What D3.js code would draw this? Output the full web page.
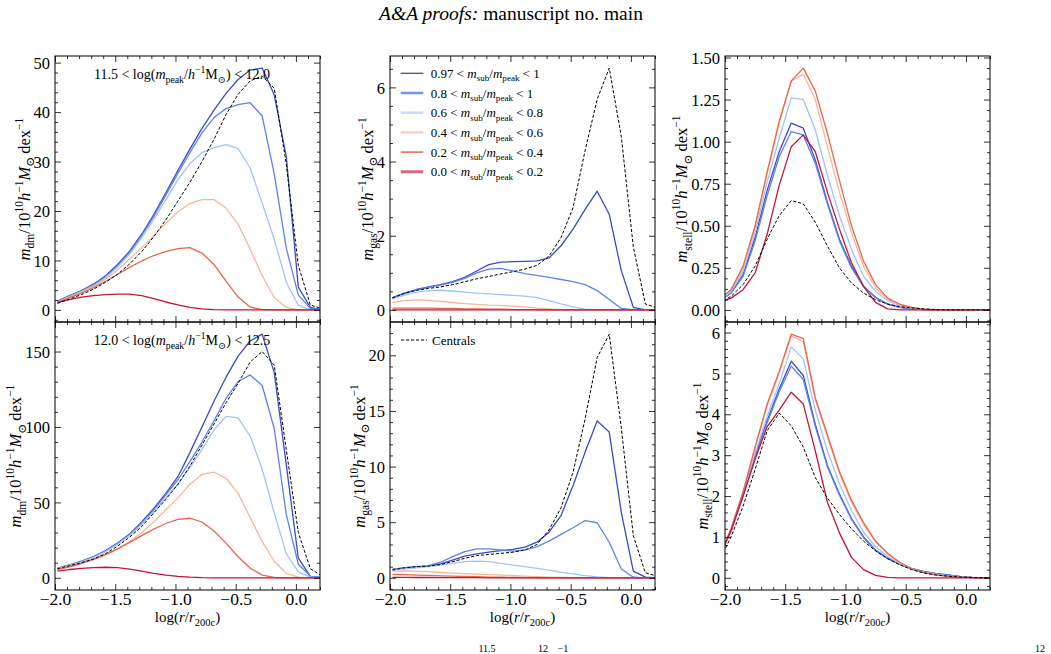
<!DOCTYPE html>
<html>
<head>
<meta charset="utf-8">
<script src="https://cdn.jsdelivr.net/npm/d3@7/dist/d3.min.js"></script>
<style>
  html, body { margin: 0; padding: 0; background: #fff; }
  svg { display: block; }
</style>
</head>
<body>
<svg id="chart"></svg>
<script>
// radial bins (log r / r200c)
const logR = [-1.98,-1.88,-1.78,-1.68,-1.58,-1.48,-1.38,-1.28,-1.18,-1.08,-0.98,-0.88,-0.78,-0.68,-0.58,-0.48,-0.38,-0.28,-0.18,-0.08,0.02,0.12,0.22]
const logRStell = [-2.05,-1.95,-1.85,-1.75,-1.65,-1.55,-1.45,-1.35,-1.25,-1.15,-1.05,-0.95,-0.85,-0.75,-0.65,-0.55,-0.45,-0.35,-0.25,-0.15,-0.05,0.05,0.15,0.25]

const xTicks = [-2, -1.5, -1, -0.5, 0]
const binLabels = [['0.97', '1'], ['0.8', '1'], ['0.6', '0.8'], ['0.4', '0.6'], ['0.2', '0.4'], ['0.0', '0.2']]
const massLabels = [['11.5', '12.0'], ['12.0', '12.5']]

// dark matter, 11.5 < log mpeak < 12.0
const dmLo097 = [1.8,2.9,3.9,5.2,6.9,9.2,11.9,15.3,19.3,23.7,28.2,32.5,36.7,40.4,43.8,46.6,48.5,48.9,43.5,31.0,4.6,0.5,0]
const dmLo080 = [1.7,2.8,3.8,5.0,6.7,8.9,11.6,15.0,18.9,23.2,27.6,31.8,35.8,38.9,40.7,41.5,41.9,39.2,27.5,12.5,3.0,0.3,0]
const dmLo060 = [1.6,2.7,3.7,4.9,6.5,8.7,11.3,14.6,18.3,22.3,26.3,29.6,31.8,32.8,33.4,32.6,28.7,21.6,14.3,5.6,0.9,0,0]
const dmLo040 = [1.5,2.6,3.5,4.7,6.2,8.1,10.3,12.6,15.0,17.5,19.8,21.5,22.3,22.3,20.6,17.3,12.3,6.9,2.5,0.5,0,0,0]
const dmLo020 = [1.5,2.5,3.4,4.5,5.8,7.2,8.6,9.9,11.0,11.8,12.4,12.6,11.5,9.2,5.8,2.6,0.6,0.05,0,0,0,0,0]
const dmLo000 = [1.5,2.1,2.6,2.9,3.1,3.2,3.2,2.9,2.3,1.6,1.0,0.5,0.2,0.05,0,0,0,0,0,0,0,0,0]
const dmLoCen = [1.3,2.2,3.1,4.2,5.6,7.2,9.3,11.8,14.8,18.2,22.0,25.8,30.0,34.5,39.5,43.6,46.3,47.3,44.8,29.5,9.0,1.0,0.2]

// dark matter, 12.0 < log mpeak < 12.5
const dmHi097 = [6.5,8.5,11,14,18,23,29,37,46,56,67,83,100,117,133,147,157,161.5,136,75,13,1,0]
const dmHi080 = [6.3,8.3,10.8,13.8,17.8,22.7,28.5,36,45,55,65,77,90,104,119,130,134.5,127.5,99,42,9,1,0]
const dmHi060 = [6.2,8.2,10.6,13.5,17.4,22.2,28,35.5,44,53,62,73,85,98,107,106,94,72,43,16,4,0.5,0]
const dmHi040 = [6.0,7.5,9.5,12,15,19,24,30,37,45,53,62,68.5,70,66,56,40,24,11,3,0.5,0,0]
const dmHi020 = [5.5,7.3,9.5,12.2,15.5,19.2,23.5,28,32.3,36,38.8,39.5,37,31,23,14,6.5,1.8,0.3,0,0,0,0]
const dmHi000 = [4.5,5.5,6.3,6.8,7.0,6.7,5.8,4.5,3.0,1.8,0.9,0.4,0.1,0,0,0,0,0,0,0,0,0,0]
const dmHiCen = [6,8,10,12.5,16,21,27,34,43,52,62,74,88,102,116,129,143,150,141,85,30,6,1]

// gas, 11.5 < log mpeak < 12.0
const gasLo097 = [0.33,0.45,0.55,0.62,0.68,0.76,0.88,1.05,1.22,1.29,1.3,1.31,1.32,1.4,1.73,2.18,2.71,3.2,2.58,1.06,0.07,0,0]
const gasLo080 = [0.32,0.44,0.54,0.61,0.67,0.74,0.85,1.0,1.1,1.12,1.05,0.98,0.93,0.88,0.82,0.76,0.68,0.52,0.28,0.04,0,0,0]
const gasLo060 = [0.3,0.4,0.48,0.52,0.53,0.51,0.48,0.45,0.43,0.41,0.39,0.37,0.33,0.25,0.16,0.08,0.02,0,0,0,0,0,0]
const gasLo040 = [0.2,0.25,0.27,0.26,0.23,0.2,0.17,0.15,0.13,0.12,0.1,0.08,0.05,0.03,0.01,0,0,0,0,0,0,0,0]
const gasLo020 = [0.05,0.05,0.05,0.05,0.04,0.04,0.03,0.03,0.02,0.02,0.01,0.01,0,0,0,0,0,0,0,0,0,0,0]
const gasLo000 = [0,0,0,0,0,0,0,0,0,0,0,0,0,0,0,0,0,0,0,0,0,0,0]
const gasLoCen = [0.32,0.45,0.53,0.58,0.62,0.68,0.76,0.84,0.9,0.97,1.03,1.1,1.2,1.45,1.95,2.76,4.3,5.68,6.52,4.68,1.7,0.16,0.05]

// gas, 12.0 < log mpeak < 12.5
const gasHi097 = [0.75,0.9,0.98,1.05,1.25,1.6,1.95,2.15,2.3,2.45,2.55,2.75,3.2,4.1,5.6,8.3,11.3,14.1,13.1,5.9,0.6,0.06,0]
const gasHi080 = [0.75,0.92,1.0,1.1,1.4,1.9,2.35,2.6,2.6,2.5,2.4,2.5,2.8,3.3,3.9,4.5,5.15,4.95,3.2,0.8,0.05,0,0]
const gasHi060 = [0.7,0.8,0.9,1.0,1.15,1.3,1.45,1.5,1.45,1.3,1.15,1.0,0.85,0.7,0.5,0.35,0.2,0.08,0.02,0,0,0,0]
const gasHi040 = [0.6,0.62,0.6,0.55,0.48,0.42,0.37,0.33,0.29,0.25,0.2,0.15,0.1,0.06,0.03,0.01,0,0,0,0,0,0,0]
const gasHi020 = [0.3,0.28,0.25,0.22,0.18,0.15,0.12,0.1,0.07,0.05,0.03,0.01,0,0,0,0,0,0,0,0,0,0,0]
const gasHi000 = [0.04,0.04,0.03,0.03,0.02,0.02,0.01,0.01,0,0,0,0,0,0,0,0,0,0,0,0,0,0,0]
const gasHiCen = [0.7,0.9,1.0,1.05,1.2,1.45,1.75,2.0,2.1,2.2,2.3,2.5,3.0,4.3,6.3,9.5,14.3,19.8,21.9,13.5,3.8,0.45,0.15]

// stars, 11.5 < log mpeak < 12.0
const stLo097 = [0.05,0.1,0.21,0.43,0.71,0.94,1.11,1.08,0.89,0.64,0.42,0.26,0.14,0.075,0.035,0.015,0.006,0.002,0,0,0,0,0,0]
const stLo080 = [0.05,0.1,0.2,0.41,0.68,0.91,1.06,1.04,0.87,0.63,0.41,0.25,0.14,0.072,0.034,0.015,0.006,0.002,0,0,0,0,0,0]
const stLo060 = [0.05,0.11,0.23,0.46,0.76,1.02,1.26,1.25,1.07,0.8,0.56,0.36,0.2,0.11,0.055,0.025,0.01,0.004,0,0,0,0,0,0]
const stLo040 = [0.06,0.12,0.25,0.49,0.81,1.11,1.36,1.40,1.25,0.97,0.70,0.46,0.26,0.13,0.065,0.03,0.012,0.004,0,0,0,0,0,0]
const stLo020 = [0.06,0.12,0.26,0.5,0.82,1.12,1.36,1.437,1.30,1.05,0.77,0.5,0.29,0.15,0.07,0.035,0.015,0.005,0,0,0,0,0,0]
const stLo000 = [0.04,0.07,0.12,0.22,0.45,0.74,0.97,1.04,0.94,0.70,0.48,0.28,0.14,0.045,0.006,0,0,0,0,0,0,0,0,0]
const stLoCen = [0.04,0.08,0.15,0.26,0.42,0.56,0.65,0.63,0.52,0.38,0.25,0.16,0.1,0.06,0.035,0.02,0.012,0.006,0.002,0,0,0,0,0]

// stars, 12.0 < log mpeak < 12.5
const stHi097 = [0.55,1.15,2.05,3.0,3.85,4.62,5.3,4.95,3.75,2.75,2.05,1.45,1.0,0.68,0.48,0.34,0.23,0.16,0.11,0.07,0.035,0.01,0,0]
const stHi080 = [0.55,1.13,2.0,2.95,3.8,4.55,5.18,4.85,3.7,2.72,2.02,1.43,0.98,0.67,0.47,0.33,0.22,0.15,0.1,0.065,0.03,0.01,0,0]
const stHi060 = [0.55,1.15,2.05,3.05,3.95,4.75,5.65,5.35,4.1,3.1,2.3,1.65,1.12,0.76,0.52,0.35,0.22,0.14,0.09,0.05,0.025,0.01,0,0]
const stHi040 = [0.5,1.2,2.1,3.2,4.2,5.0,5.92,5.78,4.35,3.45,2.55,1.85,1.3,0.88,0.58,0.37,0.21,0.12,0.065,0.035,0.015,0.005,0,0]
const stHi020 = [0.5,1.2,2.1,3.2,4.25,5.05,5.96,5.85,4.4,3.5,2.6,1.9,1.35,0.9,0.6,0.38,0.22,0.13,0.07,0.04,0.015,0.005,0,0]
const stHi000 = [0.5,1.15,2.0,2.9,3.7,4.1,4.54,4.25,3.1,1.85,1.1,0.5,0.2,0.06,0.01,0,0,0,0,0,0,0,0,0]
const stHiCen = [0.4,1.0,1.75,2.65,3.6,4.03,3.72,3.2,2.45,1.95,1.55,1.2,0.9,0.66,0.47,0.32,0.2,0.12,0.07,0.04,0.02,0.01,0,0]

const yTicksDmLo = [0, 10, 20, 30, 40, 50]
const yTicksDmHi = [0, 50, 100, 150]
const yTicksGasLo = [0, 2, 4, 6]
const yTicksGasHi = [0, 5, 10, 15, 20]
const yTicksStLo = [0, 0.25, 0.5, 0.75, 1, 1.25, 1.5]
const yTicksStHi = [0, 1, 2, 3, 4, 5, 6]

const colors = ['#3b4cc0', '#5f83ea', '#a3c2fb', '#f5b79b', '#e4694f', '#c0163a']
const FONT = "'Liberation Serif', 'DejaVu Serif', serif"

const W = 1051, H = 654
const svg = d3.select('#chart').attr('width', W).attr('height', H)
  .style('font-family', FONT)
svg.append('rect').attr('width', W).attr('height', H).attr('fill', '#fff')

// writes text with italic / sub / sup parts
function rich(text, parts, fs) {
  let shift = 0
  parts.forEach(([str, style = '']) => {
    const tok = style.split(' ')
    const sub = tok.includes('sub'), sup = tok.includes('sup')
    const target = sub ? 0.28 * fs : sup ? -0.42 * fs : 0
    text.append('tspan')
      .text(str)
      .attr('dy', target - shift)
      .attr('font-size', sub || sup ? fs * 0.7 : fs)
      .attr('font-style', tok.includes('i') ? 'italic' : null)
    shift = target
  })
  return text
}

// header
rich(svg.append('text').attr('x', 511).attr('y', 20).attr('text-anchor', 'middle'),
  [['A&A proofs:', 'i'], [' manuscript no. main']], 19.5)

const cols = [55, 390, 725]
const rows = [{top: 56, h: 266}, {top: 322, h: 268}]
const pw = 265

const panels = [
  {col: 0, row: 0, x: logR, ys: [dmLo097, dmLo080, dmLo060, dmLo040, dmLo020, dmLo000], cen: dmLoCen, ticks: yTicksDmLo, minor: 2, fmt: 'd', comp: 'dm'},
  {col: 0, row: 1, x: logR, ys: [dmHi097, dmHi080, dmHi060, dmHi040, dmHi020, dmHi000], cen: dmHiCen, ticks: yTicksDmHi, minor: 10, fmt: 'd', comp: 'dm'},
  {col: 1, row: 0, x: logR, ys: [gasLo097, gasLo080, gasLo060, gasLo040, gasLo020, gasLo000], cen: gasLoCen, ticks: yTicksGasLo, minor: 0.5, fmt: 'd', comp: 'gas'},
  {col: 1, row: 1, x: logR, ys: [gasHi097, gasHi080, gasHi060, gasHi040, gasHi020, gasHi000], cen: gasHiCen, ticks: yTicksGasHi, minor: 1, fmt: 'd', comp: 'gas'},
  {col: 2, row: 0, x: logRStell, ys: [stLo097, stLo080, stLo060, stLo040, stLo020, stLo000], cen: stLoCen, ticks: yTicksStLo, minor: 0.0625, fmt: '.2f', comp: 'stell'},
  {col: 2, row: 1, x: logRStell, ys: [stHi097, stHi080, stHi060, stHi040, stHi020, stHi000], cen: stHiCen, ticks: yTicksStHi, minor: 0.2, fmt: 'd', comp: 'stell'}
]

const xMinor = d3.range(0, 23).map(i => -2 + i * 0.1)
  .filter(v => Math.abs(v * 2 - Math.round(v * 2)) > 1e-6)

panels.forEach((p, pi) => {
  const left = cols[p.col], top = rows[p.row].top, h = rows[p.row].h
  const g = svg.append('g').attr('transform', `translate(${left},${top})`)

  const vmax = d3.max([...p.ys, p.cen].flat())
  const pad = vmax * 0.05
  const x = d3.scaleLinear().domain([-2, 0.2]).range([0, pw])
  const y = d3.scaleLinear().domain([-pad, vmax + pad]).range([h, 0])

  g.append('clipPath').attr('id', 'clip' + pi)
    .append('rect').attr('width', pw).attr('height', h)

  const lines = g.append('g').attr('clip-path', `url(#clip${pi})`)
  const line = d3.line().x((d, i) => x(p.x[i])).y(d => y(d))

  p.ys.forEach((vals, k) => {
    lines.append('path')
      .datum(vals)
      .attr('d', line)
      .attr('fill', 'none')
      .attr('stroke', colors[k])
      .attr('stroke-width', 1.3)
      .attr('stroke-linejoin', 'round')
  })
  lines.append('path')
    .datum(p.cen)
    .attr('d', line)
    .attr('fill', 'none')
    .attr('stroke', '#000')
    .attr('stroke-width', 1)
    .attr('stroke-dasharray', '3.2,1.8')

  // ticks (inward on all sides)
  const [d0, d1] = y.domain()
  const yMinor = d3.range(Math.ceil(d0 / p.minor), Math.floor(d1 / p.minor) + 1)
    .map(i => i * p.minor)
    .filter(v => !p.ticks.some(t => Math.abs(t - v) < 1e-9))
  const showX = p.row === 1

  const axes = [
    [d3.axisBottom(x).tickValues(xTicks).tickSize(-6).tickPadding(3).tickFormat(showX ? d3.format('.1f') : () => ''), `translate(0,${h})`, 'xb'],
    [d3.axisBottom(x).tickValues(xMinor).tickSize(-3).tickFormat(() => ''), `translate(0,${h})`],
    [d3.axisTop(x).tickValues(xTicks).tickSize(-6).tickFormat(() => ''), 'translate(0,0)'],
    [d3.axisTop(x).tickValues(xMinor).tickSize(-3).tickFormat(() => ''), 'translate(0,0)'],
    [d3.axisLeft(y).tickValues(p.ticks).tickSize(-6).tickPadding(5).tickFormat(d3.format(p.fmt)), 'translate(0,0)', 'yl'],
    [d3.axisLeft(y).tickValues(yMinor).tickSize(-3).tickFormat(() => ''), 'translate(0,0)'],
    [d3.axisRight(y).tickValues(p.ticks).tickSize(-6).tickFormat(() => ''), `translate(${pw},0)`],
    [d3.axisRight(y).tickValues(yMinor).tickSize(-3).tickFormat(() => ''), `translate(${pw},0)`]
  ]
  let yAxisG = null
  axes.forEach(([ax, tr, id]) => {
    const a = g.append('g').attr('transform', tr).call(ax)
    a.attr('font-family', FONT)
    a.select('.domain').remove()
    a.selectAll('line').attr('stroke', '#000').attr('stroke-width', 0.8)
    a.selectAll('text').attr('font-family', FONT).attr('fill', '#000')
    if (id === 'xb') a.selectAll('text').attr('font-size', 17.5)
    if (id === 'yl') {
      a.selectAll('text').attr('font-size', 16.5).attr('dy', '0.34em')
      yAxisG = a
    }
  })

  g.append('rect').attr('width', pw).attr('height', h)
    .attr('fill', 'none').attr('stroke', '#000').attr('stroke-width', 1)

  // y label placed next to widest tick label
  let tw = 0
  yAxisG.selectAll('text').each(function() { tw = Math.max(tw, this.getComputedTextLength()) })
  const lx = -5 - tw - 4
  const yl = g.append('text')
    .attr('transform', `translate(${lx},${h / 2}) rotate(-90)`)
    .attr('text-anchor', 'middle')
  rich(yl, [['m', 'i'], [p.comp, 'sub'], ['/10'], ['10', 'sup'], ['h', 'i'], ['−1', 'sup'], ['M', 'i'], ['⊙', 'sub'], ['\u2009dex'], ['−1', 'sup']], 16.5)

  if (showX) {
    rich(g.append('text').attr('x', pw / 2).attr('y', h + 32).attr('text-anchor', 'middle'),
      [['log('], ['r', 'i'], ['/'], ['r', 'i'], ['200c', 'sub'], [')']], 15)
  }

  if (p.col === 0) {
    const [lo, hi] = massLabels[p.row]
    rich(g.append('text').attr('x', 127).attr('y', 23).attr('text-anchor', 'middle'),
      [[lo + ' < log('], ['m', 'i'], ['peak', 'sub'], ['/'], ['h', 'i'], ['−1', 'sup'], ['M'], ['⊙', 'sub'], [') < ' + hi]], 14)
  }

  if (p.col === 1 && p.row === 0) {
    binLabels.forEach(([lo, hi], k) => {
      const ly = 17.3 + k * 19.7
      const widths = [1.3, 2.6, 2.6, 2, 1.5, 3]
      const op = [1, 0.85, 0.6, 0.75, 1, 0.65]
      g.append('line').attr('x1', 10.7).attr('x2', 33.3).attr('y1', ly).attr('y2', ly)
        .attr('stroke', colors[k]).attr('stroke-width', widths[k]).attr('stroke-opacity', op[k])
      rich(g.append('text').attr('x', 40.7).attr('y', ly + 4.5),
        [[lo + ' < '], ['m', 'i'], ['sub', 'sub'], ['/'], ['m', 'i'], ['peak', 'sub'], [' < ' + hi]], 13)
    })
  }
  if (p.col === 1 && p.row === 1) {
    g.append('line').attr('x1', 11).attr('x2', 37).attr('y1', 18).attr('y2', 18)
      .attr('stroke', '#000').attr('stroke-width', 1).attr('stroke-dasharray', '3.2,1.8')
    g.append('text').attr('x', 42).attr('y', 22.5).attr('font-size', 13).text('Centrals')
  }
})

// cut-off caption superscripts at the bottom edge
const capBits = [['11.5', 487], ['12', 543], ['−1', 563], ['12', 1040]]
capBits.forEach(([t, cx]) => {
  svg.append('text').attr('x', cx).attr('y', 652).attr('text-anchor', 'middle')
    .attr('font-size', 10).text(t)
})
</script>
</body>
</html>
